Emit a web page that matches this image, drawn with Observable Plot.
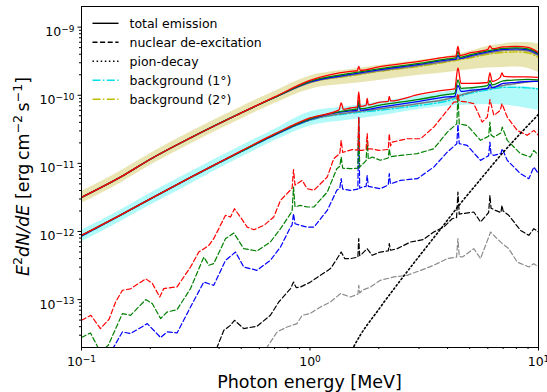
<!DOCTYPE html>
<html><head><meta charset="utf-8">
<script src="https://cdn.jsdelivr.net/npm/d3@7"></script>
<script src="https://cdn.jsdelivr.net/npm/@observablehq/plot@0.6"></script>
<style>body{margin:0;background:#fff;} svg{font-family:"DejaVu Sans",sans-serif;}</style>
</head><body><div id="chart"></div>
<script>
// ---------- data ----------
const xMajorTicks = [0.1, 1, 10];
const xMinorTicks = [0.2,0.3,0.4,0.5,0.6,0.7,0.8,0.9,2,3,4,5,6,7,8,9];
const yMajorTicks = [1e-13, 1e-12, 1e-11, 1e-10, 1e-9];
const yMinorTicks = [3e-14,4e-14,5e-14,6e-14,7e-14,8e-14,9e-14,
  2e-13,3e-13,4e-13,5e-13,6e-13,7e-13,8e-13,9e-13,
  2e-12,3e-12,4e-12,5e-12,6e-12,7e-12,8e-12,9e-12,
  2e-11,3e-11,4e-11,5e-11,6e-11,7e-11,8e-11,9e-11,
  2e-10,3e-10,4e-10,5e-10,6e-10,7e-10,8e-10,9e-10];

const energyGrid = [0.1,0.15,0.2,0.3,0.5,0.7,1,1.5,2,3,4,5,6,7,8,9,10];
const band2Low  = [2.59e-12,5.26e-12,9.35e-12,1.93e-11,4.50e-11,7.59e-11,1.22e-10,1.47e-10,1.65e-10,1.96e-10,2.16e-10,2.36e-10,2.52e-10,2.56e-10,2.59e-10,2.48e-10,2.16e-10];
const band2High = [3.88e-12,7.89e-12,1.40e-11,2.90e-11,6.75e-11,1.14e-10,1.92e-10,2.39e-10,2.74e-10,3.25e-10,3.72e-10,4.40e-10,5.21e-10,5.67e-10,5.96e-10,5.96e-10,5.67e-10];
const band1Low  = [7.00e-13,1.43e-12,2.42e-12,5.00e-12,1.225e-11,2.14e-11,3.55e-11,4.35e-11,4.98e-11,6.20e-11,6.98e-11,7.22e-11,7.34e-11,7.22e-11,6.86e-11,6.41e-11,6.00e-11];
const band1High = [1.04e-12,2.11e-12,3.63e-12,7.50e-12,1.806e-11,3.15e-11,5.70e-11,6.91e-11,7.99e-11,9.78e-11,1.139e-10,1.282e-10,1.371e-10,1.395e-10,1.371e-10,1.326e-10,1.26e-10];

const background2 = [[0.1,3.17e-12],[0.15,6.45e-12],[0.2,1.15e-11],[0.3,2.37e-11],[0.5,5.51e-11],[0.7,9.30e-11],[1,1.54e-10],[1.5,1.92e-10],[2,2.24e-10],[3,2.65e-10],[4,3.09e-10],[5,3.53e-10],[6,3.98e-10],[7,4.25e-10],[8,4.33e-10],[9,4.18e-10],[10,3.59e-10]];
const grayTotal2 = [[0.1,3.17e-12],[0.15,6.45e-12],[0.2,1.15e-11],[0.3,2.37e-11],[0.5,5.51e-11],[0.7,9.30e-11],[1,1.54e-10],[1.5,1.96e-10],[2,2.28e-10],[3,2.74e-10],[4,3.19e-10],[5,3.65e-10],[6,4.18e-10],[7,4.55e-10],[8,4.63e-10],[9,4.48e-10],[10,3.84e-10]];
const blueTotal2 = [[0.1,3.17e-12],[0.15,6.45e-12],[0.2,1.15e-11],[0.3,2.37e-11],[0.5,5.51e-11],[0.7,9.30e-11],[1,1.57e-10],[1.5,2.02e-10],[2,2.36e-10],[3,2.84e-10],[4,3.30e-10],[4.35,3.40e-10],[4.44,3.84e-10],[4.53,3.47e-10],[5,3.78e-10],[6,4.33e-10],[7,4.71e-10],[8,4.79e-10],[9,4.63e-10],[10,3.98e-10]];
const greenTotal2 = [[0.1,3.17e-12],[0.15,6.45e-12],[0.2,1.15e-11],[0.3,2.37e-11],[0.5,5.51e-11],[0.7,9.30e-11],[1,1.60e-10],[1.5,2.09e-10],[2,2.44e-10],[3,2.93e-10],[4,3.42e-10],[4.35,3.53e-10],[4.44,4.40e-10],[4.53,3.60e-10],[5,3.91e-10],[6,4.48e-10],[7,4.87e-10],[8,4.95e-10],[9,4.79e-10],[10,4.11e-10]];
const redTotal2 = [[0.1,3.17e-12],[0.15,6.45e-12],[0.2,1.15e-11],[0.3,2.37e-11],[0.5,5.51e-11],[0.7,9.46e-11],[1,1.65e-10],[1.5,2.24e-10],[1.61,2.29e-10],[1.634,2.65e-10],[1.66,2.32e-10],[2,2.61e-10],[3,3.14e-10],[4,3.65e-10],[4.35,3.76e-10],[4.44,5.2e-10],[4.53,3.84e-10],[5,4.18e-10],[6,4.71e-10],[6.13,5.3e-10],[6.27,4.83e-10],[7,5.12e-10],[8,5.21e-10],[9,5.04e-10],[10,4.25e-10]];

const background1 = [[0.1,8.49e-13],[0.15,1.755e-12],[0.2,2.96e-12],[0.3,6.13e-12],[0.5,1.475e-11],[0.7,2.575e-11],[1,4.28e-11],[1.5,5.42e-11],[2,6.00e-11],[3,7.10e-11],[4,8.26e-11],[5,1.064e-10],[6,1.198e-10],[7,1.304e-10],[8,1.304e-10],[9,1.282e-10],[10,1.239e-10]];
const grayTotal1 = [[0.1,8.64e-13],[0.15,1.785e-12],[0.2,3.01e-12],[0.3,6.23e-12],[0.5,1.50e-11],[0.7,2.62e-11],[1,4.35e-11],[1.5,5.60e-11],[2,6.31e-11],[3,7.59e-11],[4,8.84e-11],[5,1.101e-10],[6,1.26e-10],[7,1.395e-10],[8,1.492e-10],[9,1.57e-10],[10,1.624e-10]];
const blueTotal1 = [[0.1,8.64e-13],[0.15,1.785e-12],[0.2,3.01e-12],[0.3,6.23e-12],[0.5,1.50e-11],[0.7,2.62e-11],[1,4.42e-11],[1.5,5.89e-11],[1.61,6.0e-11],[1.634,7.34e-11],[1.66,6.05e-11],[2,6.63e-11],[3,8.13e-11],[4,9.46e-11],[4.3,9.6e-11],[4.44,1.395e-10],[4.58,1.139e-10],[5,1.178e-10],[6,1.26e-10],[6.13,1.443e-10],[6.27,1.28e-10],[7,1.492e-10],[8,1.544e-10],[9,1.597e-10],[10,1.597e-10]];
const greenTotal1 = [[0.1,8.78e-13],[0.15,1.785e-12],[0.2,3.01e-12],[0.3,6.23e-12],[0.5,1.50e-11],[0.7,2.665e-11],[1,4.50e-11],[1.5,6.1e-11],[1.61,6.3e-11],[1.634,8.4e-11],[1.66,6.35e-11],[2,7.10e-11],[3,8.70e-11],[4,1.029e-10],[4.3,1.064e-10],[4.44,1.68e-10],[4.58,1.26e-10],[5,1.282e-10],[6,1.395e-10],[6.13,1.65e-10],[6.27,1.42e-10],[7,1.624e-10],[8,1.68e-10],[9,1.708e-10],[10,1.68e-10]];
const redTotal1 = [[0.1,8.78e-13],[0.15,1.785e-12],[0.2,3.01e-12],[0.3,6.23e-12],[0.5,1.526e-11],[0.7,2.71e-11],[1,4.65e-11],[1.34,6.10e-11],[1.37,7.72e-11],[1.40,6.20e-11],[1.5,6.5e-11],[1.61,6.75e-11],[1.634,1.12e-10],[1.66,6.86e-11],[1.76,7.10e-11],[1.78,8.99e-11],[1.80,7.22e-11],[2,7.86e-11],[2.2,8.13e-11],[2.223,9.62e-11],[2.25,8.26e-11],[3,1.03e-10],[3.8,1.18e-10],[4.3,1.24e-10],[4.44,2.52e-10],[4.58,1.49e-10],[5,1.49e-10],[6,1.54e-10],[6.13,2.13e-10],[6.27,1.60e-10],[6.8,1.83e-10],[6.92,2.13e-10],[7.05,1.89e-10],[8,1.86e-10],[9,1.86e-10],[10,1.83e-10]];

const nuclearRed = [[0.1,4.97e-14],[0.11,5.88e-14],[0.121,3.75e-14],[0.132,5.14e-14],[0.141,9.22e-14],[0.151,1.37e-13],[0.164,1.44e-13],[0.191,2.02e-13],[0.204,1.74e-13],[0.22,1.09e-13],[0.229,1.45e-13],[0.262,1.54e-13],[0.3,3.01e-13],[0.326,4.99e-13],[0.361,6.26e-13],[0.379,7.86e-13],[0.427,1.73e-12],[0.449,1.63e-12],[0.467,2.16e-12],[0.496,1.63e-12],[0.531,1.16e-12],[0.568,1.06e-12],[0.628,1.23e-12],[0.694,1.63e-12],[0.743,2.87e-12],[0.835,4.3e-12],[0.847,8.08e-12],[0.86,4.8e-12],[0.879,5.04e-12],[0.924,5.63e-12],[0.972,4.25e-12],[1.04,4.02e-12],[1.19,6.30e-12],[1.27,1.17e-11],[1.35,1.40e-11],[1.369,2.18e-11],[1.39,1.45e-11],[1.41,1.47e-11],[1.53,1.59e-11],[1.62,1.56e-11],[1.634,4.78e-11],[1.65,1.55e-11],[1.69,1.55e-11],[1.76,1.60e-11],[1.779,2.73e-11],[1.80,1.62e-11],[1.84,1.64e-11],[2.0,1.55e-11],[2.20,1.60e-11],[2.223,2.73e-11],[2.25,1.80e-11],[2.29,2.05e-11],[2.66,2.30e-11],[3.05,2.30e-11],[3.48,3.41e-11],[3.99,6.00e-11],[4.26,7.94e-11],[4.38,8.0e-11],[4.44,1.05e-10],[4.5,8.2e-11],[4.88,7.94e-11],[5.21,7.52e-11],[5.67,4.04e-11],[5.97,4.78e-11],[6.13,8.61e-11],[6.38,5.06e-11],[6.8,6.0e-11],[6.92,7.52e-11],[7.3,4.78e-11],[8.07,3.05e-11],[8.92,2.58e-11],[9.54,3.05e-11],[10,2.58e-11]];
const nuclearGreen = [[0.1,2.77e-14],[0.1095,3.24e-14],[0.121,1.69e-14],[0.131,2.14e-14],[0.151,6.23e-14],[0.164,5.88e-14],[0.191,1.00e-13],[0.204,8.74e-14],[0.222,5.26e-14],[0.237,6.58e-14],[0.262,7.13e-14],[0.3,1.45e-13],[0.343,4.22e-13],[0.361,3.19e-13],[0.379,3.37e-13],[0.427,7.86e-13],[0.464,9.49e-13],[0.513,5.60e-13],[0.586,5.17e-13],[0.671,7.00e-13],[0.743,1.10e-12],[0.822,1.83e-12],[0.835,2.0e-12],[0.847,4.49e-12],[0.86,2.3e-12],[0.908,2.42e-12],[0.972,2.29e-12],[1.04,2.29e-12],[1.19,3.79e-12],[1.31,8.36e-12],[1.35,9.0e-12],[1.369,1.24e-11],[1.39,8.5e-12],[1.503,8.36e-12],[1.62,8.5e-12],[1.634,4.57e-11],[1.65,8.8e-12],[1.76,1.10e-11],[1.779,2.18e-11],[1.80,1.15e-11],[1.872,1.24e-11],[2.03,1.11e-11],[2.20,1.20e-11],[2.223,1.64e-11],[2.25,1.25e-11],[2.49,1.31e-11],[2.95,1.39e-11],[3.48,1.64e-11],[3.99,2.88e-11],[4.39,3.82e-11],[4.44,9.95e-11],[4.5,3.8e-11],[4.875,3.61e-11],[5.575,2.18e-11],[6.05,2.5e-11],[6.13,4.04e-11],[6.2,2.6e-11],[6.375,2.43e-11],[6.85,2.8e-11],[6.94,3.41e-11],[7.3,2.18e-11],[8.34,1.39e-11],[9.22,1.24e-11],[9.54,1.55e-11],[10,1.31e-11]];
const nuclearBlue = [[0.1,1.0e-14],[0.128,1.3e-14],[0.1385,2.02e-14],[0.151,3.35e-14],[0.164,3.17e-14],[0.194,4.44e-14],[0.222,2.77e-14],[0.237,3.35e-14],[0.262,3.24e-14],[0.3,7.79e-14],[0.343,1.81e-13],[0.379,1.62e-13],[0.427,3.77e-13],[0.472,4.99e-13],[0.513,3.01e-13],[0.586,2.69e-13],[0.671,3.77e-13],[0.743,5.91e-13],[0.822,1.16e-12],[0.835,1.25e-12],[0.847,1.83e-12],[0.86,1.3e-12],[0.908,1.23e-12],[0.972,1.16e-12],[1.04,1.16e-12],[1.19,2.04e-12],[1.31,4.02e-12],[1.35,4.3e-12],[1.369,5.96e-12],[1.39,4.2e-12],[1.503,4.02e-12],[1.62,4.2e-12],[1.634,4.72e-11],[1.65,4.3e-12],[1.692,4.49e-12],[1.76,4.6e-12],[1.779,6.67e-12],[1.80,4.6e-12],[1.872,4.49e-12],[2.03,4.25e-12],[2.20,4.8e-12],[2.223,7.06e-12],[2.25,5.0e-12],[2.49,5.63e-12],[2.95,5.96e-12],[3.48,8.83e-12],[3.99,1.465e-11],[4.39,1.945e-11],[4.44,3.73e-11],[4.5,1.95e-11],[4.875,1.837e-11],[5.575,1.107e-11],[6.05,1.3e-11],[6.13,2.05e-11],[6.2,1.35e-11],[6.375,1.31e-11],[6.85,1.4e-11],[6.94,1.643e-11],[7.3,1.107e-11],[8.34,7.06e-12],[9.07,5.96e-12],[9.54,8.83e-12],[10,7.06e-12]];
const nuclearBlack = [[0.38,1.5e-14],[0.3926,2.02e-14],[0.4196,3.54e-14],[0.4487,4.20e-14],[0.4673,4.97e-14],[0.513,3.75e-14],[0.586,4.06e-14],[0.671,5.88e-14],[0.73,9.22e-14],[0.822,1.45e-13],[0.847,1.81e-13],[0.87,1.5e-13],[0.908,1.53e-13],[1.0,1.79e-13],[1.111,2.27e-13],[1.229,2.85e-13],[1.30,3.77e-13],[1.369,4.99e-13],[1.42,4.0e-13],[1.503,4.0e-13],[1.62,4.2e-13],[1.634,7.86e-13],[1.65,4.4e-13],[1.692,4.73e-13],[1.779,5.60e-13],[1.872,4.47e-13],[2.03,4.99e-13],[2.20,5.2e-13],[2.223,6.63e-13],[2.25,5.3e-13],[2.41,5.60e-13],[2.75,7.00e-13],[3.13,7.59e-13],[3.48,9.82e-13],[3.85,1.16e-12],[4.19,1.54e-12],[4.38,1.6e-12],[4.44,3.79e-12],[4.5,1.8e-12],[4.65,1.83e-12],[5.21,1.93e-12],[5.575,1.38e-12],[6.05,1.9e-12],[6.13,3.39e-12],[6.2,2.2e-12],[6.48,2.04e-12],[6.85,1.9e-12],[6.92,2.42e-12],[7.0,2.0e-12],[7.41,1.73e-12],[8.34,1.04e-12],[9.07,8.78e-13],[9.54,1.10e-12],[10,9.82e-13]];
const nuclearGray = [[0.62,1.5e-14],[0.65,2.02e-14],[0.718,3.35e-14],[0.794,3.96e-14],[0.877,4.44e-14],[0.924,5.88e-14],[1.0,6.23e-14],[1.111,7.79e-14],[1.229,9.22e-14],[1.36,1.225e-13],[1.503,1.09e-13],[1.62,1.2e-13],[1.634,1.62e-13],[1.65,1.25e-13],[1.692,1.37e-13],[1.84,1.53e-13],[2.03,1.92e-13],[2.33,2.15e-13],[2.66,2.27e-13],[3.05,2.69e-13],[3.48,3.19e-13],[3.99,4.0e-13],[4.38,4.2e-13],[4.44,7.86e-13],[4.5,4.3e-13],[4.65,4.22e-13],[5.21,5.60e-13],[5.575,4.0e-13],[6.17,9.82e-13],[6.48,8.29e-13],[6.94,6.63e-13],[7.41,5.60e-13],[8.07,3.56e-13],[9.07,3.01e-13],[9.54,3.37e-13],[10,3.01e-13]];
const pionDecay = [[1.5,1.6e-14],[1.55,2.0e-14],[2.03,7.71e-14],[2.49,1.92e-13],[3.05,4.62e-13],[3.72,1.075e-12],[4.56,2.59e-12],[5.575,5.83e-12],[6.82,1.31e-11],[8.34,2.755e-11],[10,5.24e-11]];

const legendLabels = ["total emission","nuclear de-excitation","pion-decay","background (1\u00b0)","background (2\u00b0)"];

// ---------- styles ----------
const CYAN = "#00e0ea", OLIVE = "#bfbf00";
const DASH = "5,2.6", DOT = "1.5,2.6", DASHDOT = "8,2.4,1.5,2.4";
const legendStyles = [
  {stroke:"black", dash:null},
  {stroke:"black", dash:DASH},
  {stroke:"black", dash:DOT},
  {stroke:CYAN, dash:DASHDOT},
  {stroke:OLIVE, dash:DASHDOT}
];

const band2 = energyGrid.map((E,i)=>({E, lo:band2Low[i], hi:band2High[i]}));
const band1 = energyGrid.map((E,i)=>({E, lo:band1Low[i], hi:band1High[i]}));
const P = {x: d=>d[0], y: d=>d[1], clip: true};
const ln = (data, stroke, w, dash, curve) => Plot.line(data, {...P, stroke, strokeWidth: w, strokeDasharray: dash || undefined, curve: curve || "linear"});
const SM = "monotone-x";

const supFmt = v => "10^" + Math.round(Math.log10(v));
const hasAxisMarks = typeof Plot.axisX === "function";

const marks = [
  Plot.areaY(band2, {x:"E", y1:"lo", y2:"hi", fill:"#c9c048", fillOpacity:0.42, curve:SM, clip:true}),
  Plot.areaY(band1, {x:"E", y1:"lo", y2:"hi", fill:"#00eaea", fillOpacity:0.3, curve:SM, clip:true}),
  ln(background2, OLIVE, 1.4, DASHDOT, SM),
  ln(grayTotal2, "#7a7a7a", 1.5, null, SM),
  ln(blueTotal2, "#0000ff", 1.3, null, SM),
  ln(greenTotal2, "#008000", 1.3, null, SM),
  ln(redTotal2, "#ff0000", 1.3, null, SM),
  ln(background1, CYAN, 1.4, DASHDOT, SM),
  ln(grayTotal1, "#7a7a7a", 1.5, null, SM),
  ln(blueTotal1, "#0000ff", 1.3, null, SM),
  ln(greenTotal1, "#008000", 1.3, null, SM),
  ln(redTotal1, "#ff0000", 1.3, null, SM),
  ln(nuclearGray, "#8c8c8c", 1.2, DASH),
  ln(nuclearBlack, "black", 1.2, DASH),
  ln(nuclearBlue, "#0000ff", 1.2, DASH),
  ln(nuclearGreen, "#008000", 1.2, DASH),
  ln(nuclearRed, "#ff0000", 1.2, DASH),
  ln(pionDecay, "black", 1.6, DOT, SM)
];
if (hasAxisMarks) {
  marks.push(
    Plot.axisX({ticks: xMajorTicks, tickSize: 3.5, tickPadding: 6.5, tickFormat: supFmt, label: null}),
    Plot.axisX({ticks: xMinorTicks, tickSize: 2, tickFormat: () => "", label: null}),
    Plot.axisY({ticks: yMajorTicks, tickSize: 3.5, tickPadding: 3.5, tickFormat: supFmt, label: null}),
    Plot.axisY({ticks: yMinorTicks, tickSize: 2, tickFormat: () => "", label: null})
  );
}
marks.push(Plot.frame({stroke:"black", strokeWidth:1}));

const chart = Plot.plot({
  width: 547, height: 392,
  marginLeft: 81, marginRight: 9, marginTop: 6, marginBottom: 45,
  style: {fontFamily: "'DejaVu Sans', sans-serif", fontSize: "12.5px", background: "white", overflow: "visible"},
  x: hasAxisMarks ? {type:"log", domain:[0.1,10], label:null}
     : {type:"log", domain:[0.1,10], label:null, ticks:xMajorTicks, tickFormat:supFmt, tickSize:3.5, tickPadding:6.5},
  y: hasAxisMarks ? {type:"log", domain:[1.98e-14,2.01e-9], label:null}
     : {type:"log", domain:[1.98e-14,2.01e-9], label:null, ticks:yMajorTicks, tickFormat:supFmt, tickSize:3.5, tickPadding:3.5},
  marks
});
document.getElementById("chart").appendChild(chart);

// ---------- tick labels as 10 with superscript ----------
const svg = d3.select(chart.tagName.toLowerCase() === "svg" ? chart : chart.querySelector("svg"));
svg.selectAll("text").each(function() {
  const m = /^10\^(-?\d+)$/.exec(this.textContent.trim());
  if (!m) return;
  const exp = +m[1];
  const t = d3.select(this);
  t.text(null);
  if (exp <= -9) t.attr("dy", "0.4em");
  t.append("tspan").text("10");
  t.append("tspan").attr("dy", -4.2).attr("font-size", "9px").text(String(exp).replace("-", "\u2212"));
});

// ---------- axis titles ----------
svg.append("text")
  .attr("x", (81 + 538) / 2).attr("y", 388)
  .attr("text-anchor", "middle").attr("font-size", "17.5px").attr("fill", "black")
  .text("Photon energy [MeV]");

const yl = svg.append("text")
  .attr("transform", "translate(29,176.5) rotate(-90)")
  .attr("text-anchor", "middle").attr("font-size", "17.5px").attr("fill", "black");
yl.append("tspan").attr("font-style", "italic").text("E");
yl.append("tspan").attr("font-size", "12.5px").attr("dy", -7).text("2");
yl.append("tspan").attr("font-style", "italic").attr("dy", 7).text("dN/dE");
yl.append("tspan").text(" [erg\u2009cm");
yl.append("tspan").attr("font-size", "12.5px").attr("dy", -7).text("\u22122");
yl.append("tspan").attr("dy", 7).text("\u2009s");
yl.append("tspan").attr("font-size", "12.5px").attr("dy", -7).text("\u22121");
yl.append("tspan").attr("dy", 7).text("]");

// ---------- legend ----------
const lg = svg.append("g").attr("font-size", "12.5px").attr("text-anchor", "start");
legendLabels.forEach((label, i) => {
  const y = 23.3 + i * 19;
  const s = legendStyles[i];
  lg.append("line").attr("x1", 92.5).attr("x2", 118.5).attr("y1", y).attr("y2", y)
    .attr("stroke", s.stroke).attr("stroke-width", s.dash === DOT ? 1.6 : 1.4)
    .attr("stroke-dasharray", s.dash);
  lg.append("text").attr("x", 129.5).attr("y", y).attr("dy", "0.35em")
    .attr("text-anchor", "start").attr("fill", "black").text(label);
});
</script></body></html>
